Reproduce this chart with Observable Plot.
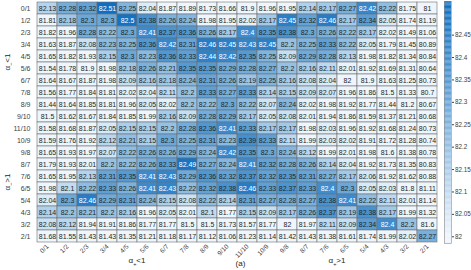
<!DOCTYPE html>
<html><head><meta charset="utf-8">
<script src="https://cdn.jsdelivr.net/npm/d3@7"></script>
<script src="https://cdn.jsdelivr.net/npm/@observablehq/plot@0.6"></script>
<style>
body{margin:0;background:#fff}
#wrap{position:relative;width:471px;height:270px;font-family:"Liberation Sans",Arial,sans-serif}
#wrap svg{position:absolute;top:0;left:0;overflow:visible}
</style>
</head><body><div id="wrap"></div>
<script>
const cols = ["0/1","1/2","2/3","3/4","4/5","5/6","6/7","7/8","8/9","9/10","11/10","10/9","9/8","8/7","7/6","6/5","5/4","4/3","3/2","2/1"];
const rows = cols;
const r_0_1   = [82.13,82.28,82.32,82.51,82.25,82.04,81.87,81.89,81.73,81.66,81.9,81.96,81.95,82.14,82.17,82.27,82.42,82.22,81.75,81];
const r_1_2   = [81.81,82.18,82.3,82.3,82.5,82.38,82.26,82.24,81.98,81.95,82.02,82.17,82.45,82.32,82.46,82.17,82.34,82.05,81.74,81.19];
const r_2_3   = [81.82,81.96,82.28,82.22,82.3,82.41,82.37,82.36,82.26,82.17,82.4,82.35,82.38,82.3,82.26,82.22,82.17,82.02,81.49,81.06];
const r_3_4   = [81.63,81.87,82.08,82.23,82.25,82.36,82.42,82.31,82.46,82.45,82.43,82.45,82.2,82.25,82.33,82.22,82.05,81.79,81.45,80.89];
const r_4_5   = [81.65,81.82,81.93,82.15,82.3,82.23,82.36,82.33,82.44,82.42,82.35,82.25,82.09,82.29,82.28,82.13,81.98,81.82,81.34,80.84];
const r_5_6   = [81.54,81.78,81.9,81.98,82.18,82.26,82.21,82.35,82.35,82.29,82.28,82.27,82.2,82.16,82.11,82.01,81.92,81.69,81.31,80.64];
const r_6_7   = [81.64,81.67,81.87,81.98,82.09,82.16,82.18,82.24,82.31,82.26,82.19,82.25,82.16,82.08,82.04,82,81.9,81.63,81.25,80.73];
const r_7_8   = [81.56,81.77,81.84,81.81,82.02,82.04,82.11,82.2,82.33,82.27,82.33,82.14,82.15,82.09,82.07,81.96,81.86,81.5,81.33,80.7];
const r_8_9   = [81.44,81.64,81.85,81.81,81.96,82.05,82.02,82.2,82.22,82.3,82.22,82.07,82.24,82.02,81.98,81.92,81.77,81.44,81.2,80.67];
const r_9_10  = [81.5,81.62,81.67,81.84,81.85,81.99,82.16,82.09,82.28,82.29,82.17,82.05,82.08,82.01,81.94,81.86,81.59,81.37,81.21,80.68];
const r_11_10 = [81.58,81.68,81.87,82.05,82.15,82.15,82.2,82.28,82.36,82.41,82.33,82.17,82.17,81.98,82.03,81.96,81.92,81.68,81.24,80.73];
const r_10_9  = [81.59,81.76,81.92,82.12,82.21,82.15,82.3,82.25,82.31,82.23,82.39,82.33,82.11,81.99,82.03,82.02,81.91,81.72,81.28,80.74];
const r_9_8   = [81.65,81.93,81.97,82.07,82.22,82.26,82.26,82.29,82.24,82.42,82.35,82.3,82.24,82.12,81.99,82.01,81.98,81.6,81.38,80.78];
const r_8_7   = [81.79,81.93,82.01,82.2,82.22,82.26,82.33,82.49,82.27,82.24,82.41,82.32,82.28,82.26,82.14,82.04,81.92,81.73,81.35,80.83];
const r_7_6   = [81.65,81.95,82.13,82.31,82.35,82.41,82.43,82.29,82.36,82.32,82.37,82.32,82.35,82.31,82.27,82.17,82.06,81.92,81.62,80.88];
const r_6_5   = [81.98,82.1,82.22,82.33,82.26,82.41,82.43,82.22,82.32,82.38,82.46,82.33,82.37,82.33,82.4,82.3,82.05,82.03,81.8,81.11];
const r_5_4   = [82.04,82.3,82.46,82.29,82.31,82.24,82.15,82.08,82.22,82.14,82.31,82.27,82.28,82.27,82.38,82.41,82.22,82.11,82.01,81.14];
const r_4_3   = [82.14,82.2,82.21,82.2,82.16,81.96,82.05,82.01,82.1,81.77,82.15,82.09,82.17,82.26,82.37,82.19,82.38,82.17,81.99,81.32];
const r_3_2   = [82.08,82.12,81.94,81.91,81.86,81.77,81.77,81.5,81.5,81.73,81.57,81.77,82,81.97,82.11,82.09,82.34,82.4,82.2,81.6];
const r_2_1   = [81.68,81.55,81.43,81.43,81.35,81.21,81.18,81.17,81.12,81.06,81.23,81.14,81.42,81.43,81.38,81.61,81.74,81.99,82.02,82.27];
const colorTicks = [82,82.05,82.1,82.15,82.2,82.25,82.3,82.35,82.4,82.45];

const rowArrays = [r_0_1,r_1_2,r_2_3,r_3_4,r_4_5,r_5_6,r_6_7,r_7_8,r_8_9,r_9_10,r_11_10,r_10_9,r_9_8,r_8_7,r_7_6,r_6_5,r_5_4,r_4_3,r_3_2,r_2_1];
const table = [];
rowArrays.forEach((arr, i) => arr.forEach((v, j) => table.push({r: rows[i], c: cols[j], v})));

const W = 471, H = 270, ML = 33, MR = 31, MT = 1, MB = 27;
const cmin = 81.985, cmax = 82.525;
const colorOpts = {type: "linear", domain: [82, 82.51], range: ["#eef5fc", "#1070c0"], clamp: true};
const font = '"Liberation Sans", Arial, sans-serif';

const main = Plot.plot({
  width: W, height: H, marginLeft: ML, marginRight: MR, marginTop: MT, marginBottom: MB,
  style: {fontFamily: font, fontSize: "7px", color: "#404040", background: "transparent"},
  x: {domain: cols, padding: 0, tickRotate: -45, tickSize: 0, tickPadding: 2, label: null},
  y: {domain: rows, padding: 0, tickSize: 0, tickPadding: 3, label: null},
  color: colorOpts,
  marks: [
    Plot.cell(table, {x: "c", y: "r", fill: "v", inset: 0, stroke: "#6e6e6e", strokeWidth: 0.6}),
    Plot.text(table, {filter: d => d.v < 82.4, x: "c", y: "r", text: d => String(d.v), fill: "#262626", fontSize: 7}),
    Plot.text(table, {filter: d => d.v >= 82.4, x: "c", y: "r", text: d => String(d.v), fill: "white", fontSize: 7})
  ]
});
d3.select(main).selectAll("[aria-label='x-axis tick label'] text").attr("font-size", "6.5px");

const stripes = d3.range(200).map(i => {
  const a = cmin + (cmax - cmin) * i / 200, b = cmin + (cmax - cmin) * (i + 1) / 200;
  return {a, b, m: (a + b) / 2};
});
const CBW = 33;
const cbar = Plot.plot({
  width: CBW, height: H, marginLeft: 6, marginRight: 20, marginTop: MT, marginBottom: MB,
  style: {fontFamily: font, fontSize: "6.3px", color: "#404040", background: "transparent"},
  x: {domain: [0, 1], axis: null},
  y: {domain: [cmin, cmax], axis: "right", ticks: colorTicks, tickSize: 2, tickPadding: 1.5, tickFormat: d => String(+d.toFixed(2)), label: null},
  color: colorOpts,
  marks: [
    Plot.rect(stripes, {x1: 0, x2: 1, y1: "a", y2: "b", fill: "m"}),
    Plot.frame({stroke: "#8a8a8a", strokeWidth: 0.6})
  ]
});

const wrap = document.getElementById("wrap");
wrap.appendChild(main);
cbar.style.left = (W - CBW) + "px";
wrap.appendChild(cbar);

const xs = main.scale("x"), ys = main.scale("y");
const svg = d3.select(main);
function greek(sel, sub, rest) {
  sel.append("tspan").text("α");
  sel.append("tspan").attr("baseline-shift", "sub").attr("font-size", "5.5px").text(sub);
  sel.append("tspan").text(rest);
}
const bw = xs.bandwidth, bh = ys.bandwidth;
const xl1 = (xs.apply(cols[0]) + xs.apply(cols[9]) + bw) / 2;
const xl2 = (xs.apply(cols[10]) + xs.apply(cols[19]) + bw) / 2;
const yl1 = (ys.apply(rows[0]) + ys.apply(rows[9]) + bh) / 2;
const yl2 = (ys.apply(rows[10]) + ys.apply(rows[19]) + bh) / 2;
const g = svg.append("g").attr("font-family", font).attr("font-size", "8px").attr("fill", "#262626").attr("text-anchor", "middle");
greek(g.append("text").attr("x", xl1).attr("y", 263), "+", "<1");
greek(g.append("text").attr("x", xl2).attr("y", 263), "+", ">1");
g.append("text").attr("x", (ML + W - MR) / 2 + 4).attr("y", 266).text("(a)");
greek(g.append("text").attr("transform", `translate(10,${yl1}) rotate(-90)`), "−", "<1");
greek(g.append("text").attr("transform", `translate(10,${yl2}) rotate(-90)`), "−", ">1");
</script></body></html>
